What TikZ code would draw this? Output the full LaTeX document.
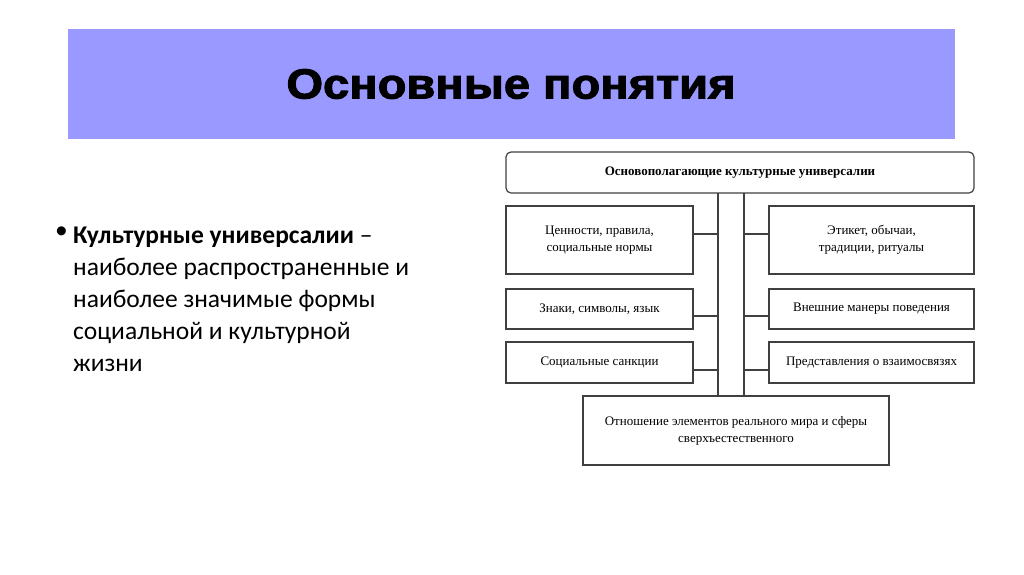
\documentclass[tikz,border=0pt]{standalone}
\usepackage{fontspec}
\setmainfont{Carlito}
\newfontfamily\ser{Liberation Serif}
\newfontfamily\ttl[FakeBold=2.5,FakeStretch=1.12]{Liberation Sans Bold}
\begin{document}
\begin{tikzpicture}[x=1pt,y=-1pt,
  bx/.style={draw=black!75,line width=1.2pt,font=\ser\fontsize{13}{17}\selectfont,align=center,inner sep=0pt},
  ln/.style={draw=black!75,line width=1.2pt}]
\useasboundingbox (0,0) rectangle (1024,574);
\fill[white] (0,0) rectangle (1024,574);
\fill[fill={rgb,255:red,153;green,153;blue,255}] (68,29) rectangle (955,139);
\node[font=\ttl\fontsize{42}{48}\selectfont] (title) at (511,84) {Основные понятия};
\node[font=\fontsize{25.5}{32}\selectfont,anchor=north west,align=left,inner sep=0pt] (txt) at (73,227)
 {\textbf{Культурные универсалии} –\\наиболее распространенные и\\наиболее значимые формы\\социальной и культурной\\жизни};
\node[font=\fontsize{25.5}{32}\selectfont,anchor=north west,inner sep=0pt] (bul) at (55,227) {•};
\node[bx,rounded corners=5pt,minimum width=468pt,minimum height=41pt,font=\ser\bfseries\fontsize{13}{17}\selectfont] (top) at (740,172.5) {Основополагающие культурные универсалии};
\node[bx,minimum width=187pt,minimum height=68pt] (l1) at (599.5,240) {Ценности, правила,\\социальные нормы};
\node[bx,minimum width=187pt,minimum height=40pt] (l2) at (599.5,309) {Знаки, символы, язык};
\node[bx,minimum width=187pt,minimum height=41pt] (l3) at (599.5,362.5) {Социальные санкции};
\node[bx,minimum width=205pt,minimum height=68pt] (r1) at (871.5,240) {Этикет, обычаи,\\традиции, ритуалы};
\node[bx,minimum width=205pt,minimum height=40pt] (r2) at (871.5,309) {Внешние манеры поведения};
\node[bx,minimum width=205pt,minimum height=41pt] (r3) at (871.5,362.5) {Представления о взаимосвязях};
\node[bx,minimum width=306pt,minimum height=69pt] (bot) at (736,430.5) {Отношение элементов реального мира и сферы\\сверхъестественного};
\coordinate (va) at (718,193);\coordinate (vb) at (744,193);
\draw[ln] (va) -- (718,396);
\draw[ln] (vb) -- (744,396);
\draw[ln] (l1.east |- 0,234) -- (718,234);
\draw[ln] (l2.east |- 0,316) -- (718,316);
\draw[ln] (l3.east |- 0,370) -- (718,370);
\draw[ln] (r1.west |- 0,234) -- (744,234);
\draw[ln] (r2.west |- 0,316) -- (744,316);
\draw[ln] (r3.west |- 0,370) -- (744,370);
\end{tikzpicture}
\end{document}
